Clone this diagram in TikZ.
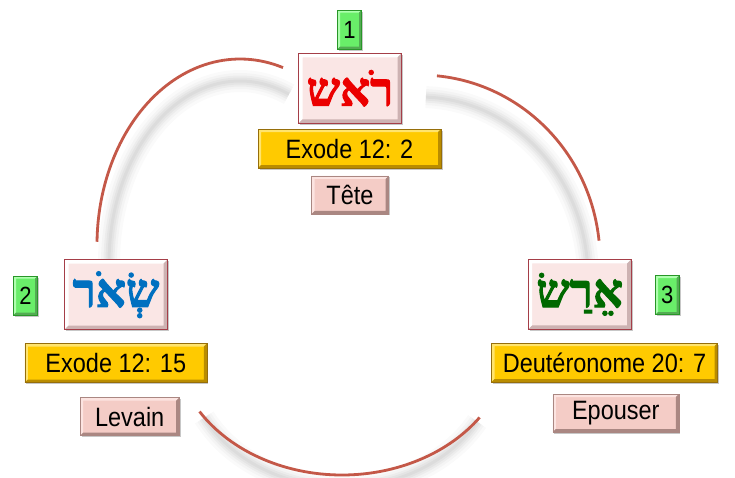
\documentclass[tikz,border=0pt]{standalone}
\usepackage{fontspec}
\setmainfont{Liberation Sans}
\newfontfamily\hebfont[Script=Hebrew,BoldFeatures={FakeBold=2.2}]{Liberation Serif}
\TeXXeTstate=1
\usetikzlibrary{calc,shadows}

% palette
\definecolor{ringred}{RGB}{196,88,72}
\definecolor{hebfill}{RGB}{250,230,229}
\definecolor{hebline}{RGB}{165,62,72}
\definecolor{hebdark}{RGB}{205,178,178}
\definecolor{goldfill}{RGB}{255,202,0}
\definecolor{goldlight}{RGB}{255,228,110}
\definecolor{golddark}{RGB}{185,140,0}
\definecolor{goldline}{RGB}{150,110,10}
\definecolor{pinkfill}{RGB}{244,204,198}
\definecolor{pinklight}{RGB}{252,228,225}
\definecolor{pinkdark}{RGB}{170,135,130}
\definecolor{greenfill}{RGB}{105,238,105}
\definecolor{greenlight}{RGB}{175,255,175}
\definecolor{greendark}{RGB}{40,150,40}
\definecolor{rosh}{RGB}{235,0,0}
\definecolor{seor}{RGB}{0,112,192}
\definecolor{eras}{RGB}{0,105,0}

\newcommand\tallish[1]{\scalebox{1}[1.13]{#1}}

\tikzset{
  x=1pt, y=1pt,
  % light strip on top/left, dark strip on bottom/right
  bevel/.style n args={3}{path picture={
    \path (path picture bounding box.south west) coordinate (bSW)
          (path picture bounding box.north east) coordinate (bNE);
    \fill[#1] (bSW) |- (bNE) -- ++(-#3,-#3) -| ($(bSW)+(#3,#3)$) -- cycle;
    \fill[#2] (bSW) -| (bNE) -- ++(-#3,-#3) |- ($(bSW)+(#3,#3)$) -- cycle;
  }},
  softshadow/.style={drop shadow={shadow xshift=1.5pt,shadow yshift=-1.5pt,opacity=.22,fill=black}},
  hebbox/.style={softshadow, draw=hebline, line width=1.1pt, fill=hebfill,
    bevel={white}{hebdark}{4pt}, inner sep=0pt,
    minimum width=103pt, minimum height=70pt,
    font=\hebfont\bfseries\fontsize{47}{50}\selectfont},
  refbox/.style={softshadow, draw=goldline, line width=.6pt, fill=goldfill,
    bevel={goldlight}{golddark}{3pt}, inner sep=0pt, minimum height=39pt,
    font=\fontsize{23.5}{28}\selectfont},
  wordbox/.style={softshadow, draw=pinkdark, line width=.6pt, fill=pinkfill,
    bevel={pinklight}{pinkdark}{3pt}, inner sep=0pt, minimum height=38pt,
    font=\fontsize{23.5}{28}\selectfont},
  numbox/.style={softshadow, draw=greendark, line width=.6pt, fill=greenfill,
    bevel={greenlight}{greendark!80}{2.5pt}, inner sep=0pt,
    minimum width=24pt, minimum height=39pt,
    font=\fontsize{22}{26}\selectfont},
  ring/.style={draw=ringred, line width=2.8pt},
}

\begin{document}
\begin{tikzpicture}
\useasboundingbox[fill=white] (0,0) rectangle (735,477);

% soft grey shadow under the ring pieces
\foreach \w/\o in {22/0.02,16/0.025,11/0.03,7/0.03,3/0.03}{
  \draw[line width=\w pt, black, opacity=\o]
    (240,214) ++(68:131pt and 182pt) arc[start angle=68,end angle=181,x radius=131pt,y radius=182pt]
    (420,199) ++(88:168pt and 181pt) arc[start angle=88,end angle=4,x radius=168pt,y radius=181pt]
    (342,121) ++(208:156pt and 131pt) arc[start angle=208,end angle=330,x radius=156pt,y radius=131pt];
}

% the three ring pieces
\draw[ring] (240,232) ++(72.5:143pt and 186pt)
  arc[start angle=72.5,end angle=179,x radius=143pt,y radius=186pt];
\draw[ring] (420,217) ++(84.6:180pt and 185pt)
  arc[start angle=84.6,end angle=6,x radius=180pt,y radius=185pt];
\draw[ring] (342,137) ++(212:168pt and 135pt)
  arc[start angle=212,end angle=325,x radius=168pt,y radius=135pt];

% head
\node[numbox] (n1) at (349.5,447.3) {\tallish{1}};
\node[hebbox, text=rosh] (w1) at (350,388.7) {\beginR רֹאש\endR};
\node[refbox, minimum width=183pt] (r1) at (349.5,328.3) {\tallish{Exode 12: 2}};
\node[wordbox, minimum width=77pt] (t1) at (350,282) {\tallish{Tête}};

% leaven
\node[numbox] (n2) at (25.5,181.5) {\tallish{2}};
\node[hebbox, text=seor] (w2) at (116,182.3) {\beginR שְׂאֹר\endR};
\node[refbox, minimum width=182pt] (r2) at (115.8,114) {\tallish{Exode 12: 15}};
\node[wordbox, minimum width=99pt] (t2) at (129.7,60.3) {\tallish{Levain}};

% betroth
\node[numbox, minimum width=23.5pt] (n3) at (667.3,182) {\tallish{3}};
\node[hebbox, text=eras] (w3) at (579.7,182.7) {\beginR אֵרַשׂ\endR};
\node[refbox, minimum width=226pt] (r3) at (604.5,114.5) {\tallish{Deutéronome 20: 7}};
\node[wordbox, minimum width=126pt] (t3) at (615.8,64) {\tallish{Epouser}};
\end{tikzpicture}
\end{document}
